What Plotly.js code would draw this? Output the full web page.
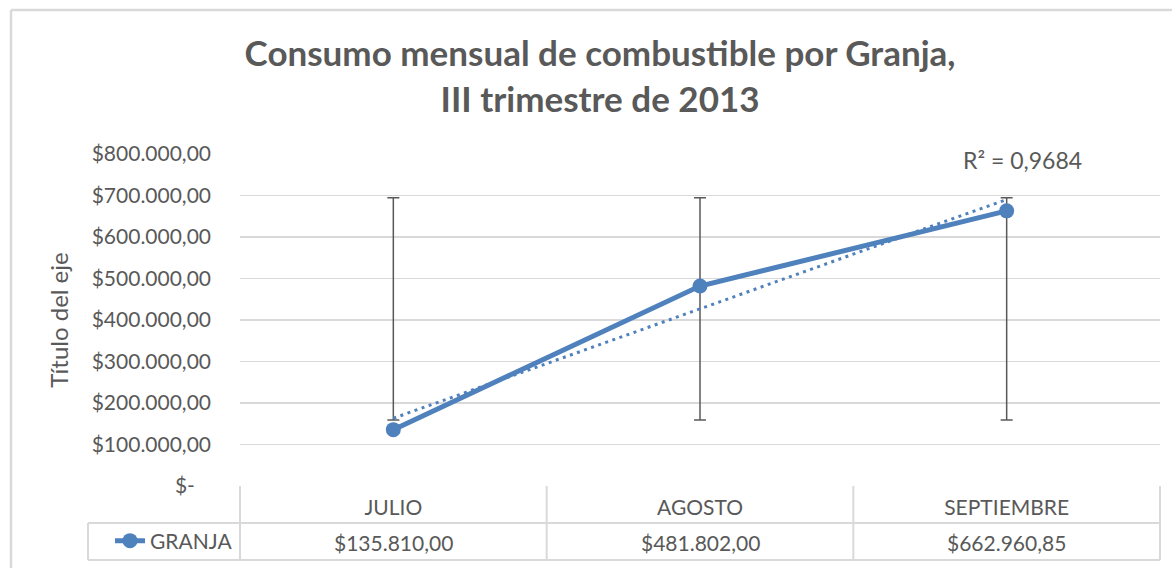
<!DOCTYPE html>
<html>
<head>
<meta charset="utf-8">
<script src="https://cdn.plot.ly/plotly-3.0.1.min.js"></script>
<style>
html, body { margin: 0; padding: 0; background: #ffffff; }
#chart { width: 1172px; height: 568px; }
</style>
</head>
<body>
<div id="chart"></div>
<script>
// ---- Data ----
var categories = ['JULIO', 'AGOSTO', 'SEPTIEMBRE'];
var seriesName = 'GRANJA';
var values = [135810.00, 481802.00, 662960.85];
var yTickVals = [0, 100000, 200000, 300000, 400000, 500000, 600000, 700000, 800000];
var yTickText = ['$-\u00a0\u00a0\u00a0', '$100.000,00', '$200.000,00', '$300.000,00', '$400.000,00',
                 '$500.000,00', '$600.000,00', '$700.000,00', '$800.000,00'];
var titleText = '<b>Consumo mensual de combustible por Granja,<br>III trimestre de 2013</b>';
var yTitle = 'Título del eje';

// ---- Derived statistics (as Excel computes them) ----
var n = values.length;
var xs = values.map(function (v, i) { return i + 1; });
var mean = values.reduce(function (a, b) { return a + b; }, 0) / n;
var sd = Math.sqrt(values.reduce(function (a, v) { return a + (v - mean) * (v - mean); }, 0) / (n - 1));
var xMean = xs.reduce(function (a, b) { return a + b; }, 0) / n;
var sxy = 0, sxx = 0;
for (var i = 0; i < n; i++) { sxy += (xs[i] - xMean) * (values[i] - mean); sxx += (xs[i] - xMean) * (xs[i] - xMean); }
var slope = sxy / sxx, intercept = mean - slope * xMean;
var fitted = xs.map(function (x) { return intercept + slope * x; });
var ssRes = 0, ssTot = 0;
for (var j = 0; j < n; j++) { ssRes += Math.pow(values[j] - fitted[j], 2); ssTot += Math.pow(values[j] - mean, 2); }
var r2 = 1 - ssRes / ssTot;

function fmtMoney(v) {
  var parts = v.toFixed(2).split('.');
  var intPart = parts[0].replace(/\B(?=(\d{3})+(?!\d))/g, '.');
  return '$' + intPart + ',' + parts[1];
}

// ---- Styles ----
var FONT = 'Lato, "Open Sans", sans-serif';
var TXT = '#595959';
var BLUE = '#4f81bd';
var GRID = '#d9d9d9';

var traces = [
  {
    x: categories, y: categories.map(function () { return mean; }),
    type: 'scatter', mode: 'markers',
    marker: { color: 'rgba(0,0,0,0)', size: 1 },
    error_y: { type: 'data', array: categories.map(function () { return sd; }), visible: true,
               color: TXT, thickness: 1.5, width: 6 },
    showlegend: false, hoverinfo: 'skip'
  },
  {
    x: categories, y: fitted, type: 'scatter', mode: 'lines',
    line: { color: BLUE, width: 3, dash: '3px,4.5px' },
    showlegend: false, hoverinfo: 'skip'
  },
  {
    x: categories, y: values, type: 'scatter', mode: 'lines+markers', name: seriesName,
    line: { color: BLUE, width: 5 },
    marker: { color: BLUE, size: 15 },
    hoverinfo: 'skip'
  }
];

// paper coordinates for table and frame
var W = 1172, H = 568;
var plotL = 240, plotR = 1160, plotT = 154, plotB = 486;
var pw = plotR - plotL, ph = plotB - plotT;
function px(x) { return (x - plotL) / pw; }
function py(y) { return (plotB - y) / ph; }

var yMid = py(523), yBot = py(560), xLeg = px(88);
var lineStyle = { color: GRID, width: 2 };
var shapes = [];
[0, 1 / 3, 2 / 3, 1].forEach(function (xp) {
  shapes.push({ type: 'line', xref: 'paper', yref: 'paper', x0: xp, x1: xp, y0: 0, y1: yBot, line: lineStyle });
});
shapes.push({ type: 'line', xref: 'paper', yref: 'paper', x0: xLeg, x1: 1, y0: yMid, y1: yMid, line: lineStyle });
shapes.push({ type: 'line', xref: 'paper', yref: 'paper', x0: xLeg, x1: 1, y0: yBot, y1: yBot, line: lineStyle });
shapes.push({ type: 'line', xref: 'paper', yref: 'paper', x0: xLeg, x1: xLeg, y0: yMid, y1: yBot, line: lineStyle });
// chart frame (left and top edges)
shapes.push({ type: 'line', xref: 'paper', yref: 'paper', x0: px(11), x1: px(11), y0: py(580), y1: py(10), line: { color: GRID, width: 2.5 } });
shapes.push({ type: 'line', xref: 'paper', yref: 'paper', x0: px(11), x1: px(1180), y0: py(10), y1: py(10), line: { color: GRID, width: 2.5 } });

var annotations = categories.map(function (c, k) {
  return { x: c, xref: 'x', y: py(542), yref: 'paper', text: fmtMoney(values[k]), showarrow: false,
           xanchor: 'center', yanchor: 'middle', font: { family: FONT, size: 21, color: TXT } };
});
annotations.push({
  x: categories[n - 1], xref: 'x', xshift: 16, y: py(160), yref: 'paper',
  text: 'R² = ' + r2.toFixed(4).replace('.', ','), showarrow: false,
  xanchor: 'center', yanchor: 'middle', font: { family: FONT, size: 23, color: TXT }
});

var layout = {
  width: W, height: H,
  margin: { l: plotL, r: W - plotR, t: plotT, b: H - plotB, pad: 0, autoexpand: false },
  paper_bgcolor: '#ffffff', plot_bgcolor: '#ffffff',
  font: { family: FONT, color: TXT },
  title: {
    text: titleText, x: 0.512, xanchor: 'center', xref: 'container',
    y: 1 - 66 / H, yanchor: 'top', yref: 'container',
    font: { family: FONT, size: 35, color: TXT }
  },
  xaxis: {
    type: 'category', range: [-0.5, 2.5], showgrid: false, zeroline: false, showline: false,
    ticks: '', ticklabelstandoff: 7, tickfont: { family: FONT, size: 21, color: TXT }, fixedrange: true
  },
  yaxis: {
    range: [0, 800000], tickmode: 'array', tickvals: yTickVals, ticktext: yTickText,
    showgrid: true, gridcolor: GRID, gridwidth: 1.5, zeroline: false, showline: false,
    ticks: '', ticklabelstandoff: 28, tickfont: { family: FONT, size: 21, color: TXT },
    title: { text: yTitle, standoff: 16, font: { family: FONT, size: 24, color: TXT } },
    fixedrange: true
  },
  showlegend: true,
  legend: {
    x: px(110), xanchor: 'left', y: py(541), yanchor: 'middle',
    bgcolor: 'rgba(0,0,0,0)', borderwidth: 0,
    font: { family: FONT, size: 21, color: TXT }
  },
  shapes: shapes,
  annotations: annotations,
  hovermode: false
};

Plotly.newPlot('chart', traces, layout, { displayModeBar: false, staticPlot: true });
</script>
</body>
</html>
